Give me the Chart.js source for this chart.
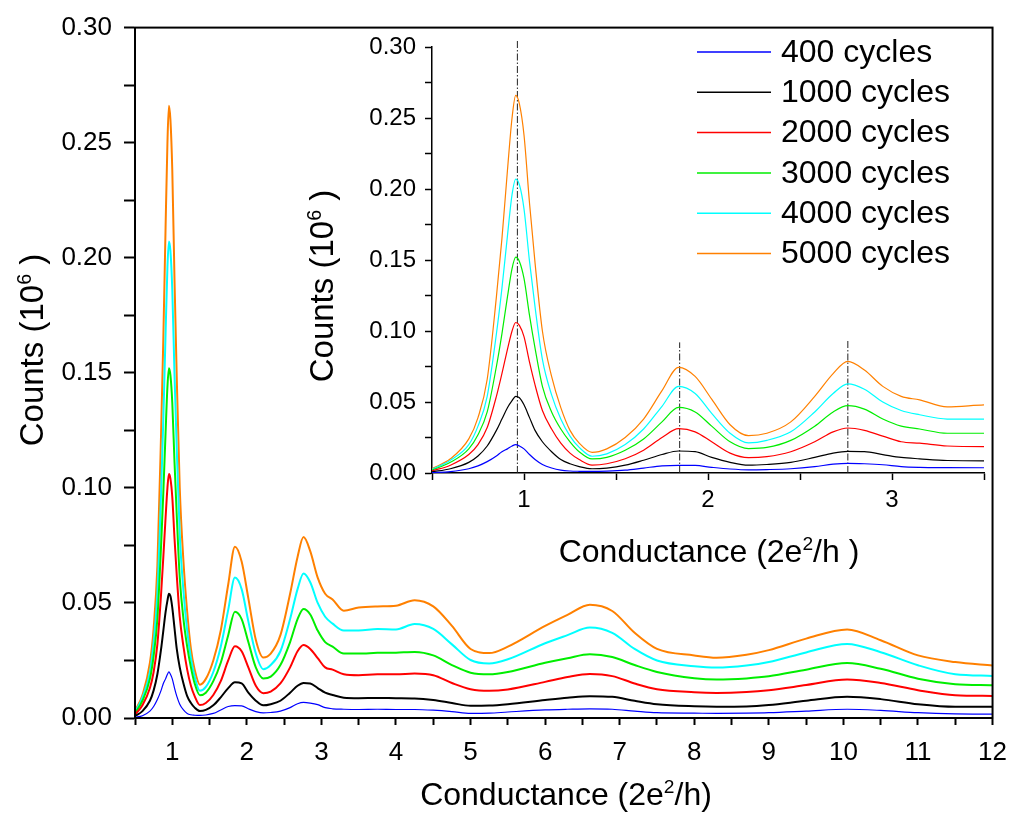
<!DOCTYPE html>
<html>
<head>
<meta charset="utf-8">
<script src="https://cdn.jsdelivr.net/npm/chart.js@4.4.1/dist/chart.umd.min.js"></script>
<style>
  body { margin: 0; background: #fff; }
  .wrap { position: relative; width: 1019px; height: 819px; }
  canvas { position: absolute; left: 0; top: 0; }
</style>
</head>
<body>
<div class="wrap">
  <canvas id="mainChart" width="1019" height="819"></canvas>
  <canvas id="insetChart" width="1019" height="819"></canvas>
</div>
<script>
const FONT = '"Liberation Sans", Arial, sans-serif';

// conductance values (2e^2/h) where the curves were read
const conductance = [
  0.5, 0.6, 0.7, 0.75, 0.8, 0.85, 0.88, 0.91, 0.935, 0.955, 0.975, 1.0, 1.03, 1.06, 1.1, 1.15, 1.2, 1.25, 1.3, 1.37,
  1.45, 1.55, 1.65, 1.75, 1.84, 1.93, 2.02, 2.12, 2.22, 2.32, 2.45, 2.58, 2.68, 2.76, 2.85, 2.95, 3.05, 3.15, 3.3, 3.5,
  3.75, 4.0, 4.25, 4.5, 4.75, 5.0, 5.25, 5.5, 6.0, 6.3, 6.6, 6.9, 7.2, 7.5, 8.0, 8.3, 8.7, 9.0, 9.5, 10.05, 10.5, 11.0, 11.5, 12.0,
];

// counts (10^6) per series
const counts400 = [
  0.0003, 0.001, 0.003, 0.005, 0.008, 0.012, 0.015, 0.017, 0.019, 0.020, 0.019, 0.017, 0.013, 0.0095, 0.006, 0.0035, 0.002, 0.0014, 0.0012, 0.0011,
  0.0013, 0.002, 0.0035, 0.005, 0.0054, 0.0053, 0.004, 0.0028, 0.0022, 0.0024, 0.003, 0.0045, 0.0062, 0.0068, 0.0065, 0.0058, 0.0045, 0.004, 0.0038, 0.0037,
  0.0038, 0.0037, 0.0037, 0.0034, 0.0028, 0.002, 0.0021, 0.0026, 0.0035, 0.0038, 0.004, 0.0038, 0.003, 0.0023, 0.0021, 0.002, 0.0021, 0.0023, 0.003, 0.0038, 0.0033, 0.0023, 0.0018, 0.0017,
];
const counts1000 = [
  0.0008, 0.003, 0.0075, 0.012, 0.019, 0.030, 0.038, 0.046, 0.051, 0.054, 0.053, 0.048, 0.039, 0.030, 0.022, 0.015, 0.0095, 0.0065, 0.0045, 0.003,
  0.0035, 0.0055, 0.009, 0.013, 0.0155, 0.015, 0.011, 0.0075, 0.0055, 0.006, 0.0075, 0.011, 0.014, 0.0152, 0.015, 0.013, 0.011, 0.010, 0.0088, 0.0086,
  0.0087, 0.0086, 0.0085, 0.0078, 0.0065, 0.0053, 0.0054, 0.006, 0.0078, 0.0088, 0.0095, 0.0092, 0.0075, 0.006, 0.0051, 0.0049, 0.005, 0.0056, 0.0075, 0.0092, 0.0082, 0.006, 0.0049, 0.0049,
];
const counts2000 = [
  0.0015, 0.0055, 0.013, 0.020, 0.032, 0.054, 0.070, 0.087, 0.100, 0.106, 0.104, 0.096, 0.078, 0.062, 0.044, 0.031, 0.021, 0.014, 0.0095, 0.0056,
  0.0065, 0.010, 0.016, 0.025, 0.0312, 0.029, 0.022, 0.014, 0.0108, 0.0115, 0.015, 0.022, 0.029, 0.0317, 0.030, 0.026, 0.022, 0.021, 0.019, 0.0186,
  0.019, 0.019, 0.0193, 0.0186, 0.0152, 0.0125, 0.0118, 0.0124, 0.0157, 0.0178, 0.0191, 0.0182, 0.015, 0.0125, 0.0112, 0.0109, 0.0113, 0.0121, 0.0143, 0.0167, 0.0152, 0.0121, 0.0099, 0.0096,
];
const counts3000 = [
  0.002, 0.0075, 0.017, 0.027, 0.043, 0.075, 0.098, 0.124, 0.144, 0.152, 0.149, 0.137, 0.111, 0.088, 0.061, 0.043, 0.031, 0.022, 0.015, 0.0099,
  0.011, 0.016, 0.024, 0.036, 0.0462, 0.043, 0.033, 0.022, 0.0172, 0.018, 0.023, 0.033, 0.043, 0.0474, 0.045, 0.038, 0.033, 0.031, 0.028, 0.028,
  0.0283, 0.0284, 0.0287, 0.0272, 0.023, 0.0197, 0.019, 0.020, 0.024, 0.026, 0.0277, 0.0265, 0.023, 0.020, 0.0173, 0.0167, 0.0172, 0.0181, 0.021, 0.0239, 0.0214, 0.0171, 0.0147, 0.0142,
];
const counts4000 = [
  0.0025, 0.009, 0.020, 0.033, 0.054, 0.098, 0.130, 0.167, 0.196, 0.207, 0.203, 0.186, 0.149, 0.117, 0.080, 0.055, 0.038, 0.026, 0.018, 0.0118,
  0.0135, 0.020, 0.031, 0.047, 0.061, 0.056, 0.042, 0.028, 0.0212, 0.023, 0.029, 0.043, 0.056, 0.0628, 0.059, 0.050, 0.044, 0.041, 0.038, 0.038,
  0.0387, 0.0385, 0.0408, 0.0387, 0.032, 0.0252, 0.0237, 0.0255, 0.0325, 0.036, 0.0393, 0.037, 0.030, 0.025, 0.0225, 0.0219, 0.0228, 0.0243, 0.0285, 0.0322, 0.0286, 0.0229, 0.019, 0.0183,
];
const counts5000 = [
  0.003, 0.010, 0.024, 0.039, 0.066, 0.124, 0.165, 0.213, 0.250, 0.266, 0.260, 0.238, 0.190, 0.148, 0.100, 0.068, 0.046, 0.030, 0.021, 0.0145,
  0.017, 0.025, 0.038, 0.058, 0.0744, 0.068, 0.052, 0.034, 0.0263, 0.028, 0.036, 0.054, 0.070, 0.0786, 0.0725, 0.061, 0.054, 0.0515, 0.0466, 0.048,
  0.0485, 0.0488, 0.0512, 0.0485, 0.040, 0.030, 0.0282, 0.031, 0.040, 0.0448, 0.0492, 0.0465, 0.037, 0.030, 0.0272, 0.0262, 0.0275, 0.0295, 0.0345, 0.0385, 0.0338, 0.0272, 0.0243, 0.0228,
];

const seriesLabels = ["400 cycles", "1000 cycles", "2000 cycles", "3000 cycles", "4000 cycles", "5000 cycles"];
const seriesValues = [counts400, counts1000, counts2000, counts3000, counts4000, counts5000];
const seriesColors = ["#0000FF", "#000000", "#FF0000", "#00EE00", "#00FFFF", "#FF8000"];

// peak positions marked in the inset (x, top of the dash-dot line)
const peakX = [0.964, 1.846, 2.76];
const peakTop = [0.305, 0.092, 0.094];

function toPoints(values) {
  return conductance.map((x, i) => ({ x: x, y: values[i] }));
}

function curveSets(width, blueWidth) {
  return seriesValues.map((vals, i) => ({
    label: seriesLabels[i],
    data: toPoints(vals),
    borderColor: seriesColors[i],
    borderWidth: i === 0 ? blueWidth : width,
    pointRadius: 0,
    fill: false,
    cubicInterpolationMode: "monotone",
  }));
}

function isMultiple(v, step) {
  return Math.abs(v / step - Math.round(v / step)) < 1e-6;
}

function axis(opts) {
  return {
    type: "linear",
    min: opts.min,
    max: opts.max,
    afterFit: opts.afterFit,
    border: { display: true, color: "#000", width: opts.borderWidth },
    grid: { drawOnChartArea: false, drawTicks: true, tickLength: opts.tickLength, tickWidth: opts.borderWidth, tickColor: "#000" },
    ticks: {
      stepSize: opts.step,
      autoSkip: false,
      maxRotation: 0,
      padding: opts.padding,
      color: "#000",
      font: { family: FONT, size: opts.fontSize },
      callback: opts.label,
    },
  };
}

const xLabel = (v) => (isMultiple(v, 1) ? String(Math.round(v)) : "");
const yLabel = (v) => (isMultiple(v, 0.05) ? v.toFixed(2) : "");

// axis titles with a real superscript
function drawTitle(ctx, parts, cx, cy, size, vertical) {
  ctx.save();
  ctx.translate(cx, cy);
  if (vertical) ctx.rotate(-Math.PI / 2);
  ctx.fillStyle = "#000";
  ctx.textBaseline = "alphabetic";
  const supSize = size * 0.6;
  let w = 0;
  parts.forEach((p) => {
    ctx.font = (p.sup ? supSize : size) + "px " + FONT;
    w += ctx.measureText(p.t).width;
  });
  let x = -w / 2;
  parts.forEach((p) => {
    ctx.font = (p.sup ? supSize : size) + "px " + FONT;
    ctx.fillText(p.t, x, p.sup ? -size * 0.36 : 0);
    x += ctx.measureText(p.t).width;
  });
  ctx.restore();
}

const countsTitle = [{ t: "Counts (10" }, { t: "6", sup: true }, { t: " )" }];

const mainDecor = {
  id: "mainDecor",
  afterDraw(chart) {
    const { ctx, chartArea } = chart;
    ctx.save();
    ctx.strokeStyle = "#000";
    ctx.lineWidth = 2;
    ctx.strokeRect(chartArea.left, chartArea.top, chartArea.right - chartArea.left, chartArea.bottom - chartArea.top);
    ctx.restore();
    drawTitle(ctx, countsTitle, 43, 350, 33, true);
    drawTitle(ctx, [{ t: "Conductance (2e" }, { t: "2", sup: true }, { t: "/h)" }], 566, 805, 32, false);
  },
};

const insetDecor = {
  id: "insetDecor",
  afterDraw(chart) {
    const ctx = chart.ctx;
    drawTitle(ctx, countsTitle, 333, 286, 33, true);
    drawTitle(ctx, [{ t: "Conductance (2e" }, { t: "2", sup: true }, { t: "/h )" }], 709, 562, 32, false);
    ctx.save();
    ctx.font = "32px " + FONT;
    ctx.textBaseline = "middle";
    seriesLabels.forEach((label, i) => {
      const y = 52 + i * 40.3;
      ctx.strokeStyle = seriesColors[i];
      ctx.lineWidth = 1.5;
      ctx.beginPath();
      ctx.moveTo(697, y);
      ctx.lineTo(771, y);
      ctx.stroke();
      ctx.fillStyle = "#000";
      ctx.fillText(label, 781, y + 1);
    });
    ctx.restore();
  },
};

new Chart(document.getElementById("mainChart").getContext("2d"), {
  type: "line",
  data: { datasets: curveSets(2, 1.2) },
  options: {
    responsive: false,
    animation: false,
    layout: { padding: { left: 0, top: 22, right: 22, bottom: 0 } },
    plugins: { legend: { display: false }, tooltip: { enabled: false } },
    scales: {
      x: axis({ min: 0.5, max: 12, step: 0.5, tickLength: 7, padding: 12, fontSize: 26, borderWidth: 2, label: xLabel,
        afterFit: (s) => { s.height = 101; } }),
      y: axis({ min: 0, max: 0.3, step: 0.025, tickLength: 11, padding: 12, fontSize: 26, borderWidth: 2, label: yLabel,
        afterFit: (s) => { s.width = 135; } }),
    },
  },
  plugins: [mainDecor],
});

const peakSets = peakX.map((x, i) => ({
  label: "",
  data: [{ x: x, y: 0 }, { x: x, y: peakTop[i] }],
  borderColor: "#222",
  borderWidth: 1,
  borderDash: [7, 2, 1.5, 2],
  pointRadius: 0,
  clip: false,
}));

new Chart(document.getElementById("insetChart").getContext("2d"), {
  type: "line",
  data: { datasets: curveSets(1.2, 1.2).concat(peakSets) },
  options: {
    responsive: false,
    animation: false,
    layout: { padding: { left: 0, top: 47, right: 35, bottom: 0 } },
    plugins: { legend: { display: false }, tooltip: { enabled: false } },
    scales: {
      x: axis({ min: 0.5, max: 3.5, step: 0.5, tickLength: 7, padding: 6, fontSize: 24, borderWidth: 1.5, label: xLabel,
        afterFit: (s) => { s.height = 346; } }),
      y: axis({ min: 0, max: 0.3, step: 0.025, tickLength: 7, padding: 9, fontSize: 24, borderWidth: 1.5, label: yLabel,
        afterFit: (s) => { s.width = 432; } }),
    },
  },
  plugins: [insetDecor],
});
</script>
</body>
</html>
